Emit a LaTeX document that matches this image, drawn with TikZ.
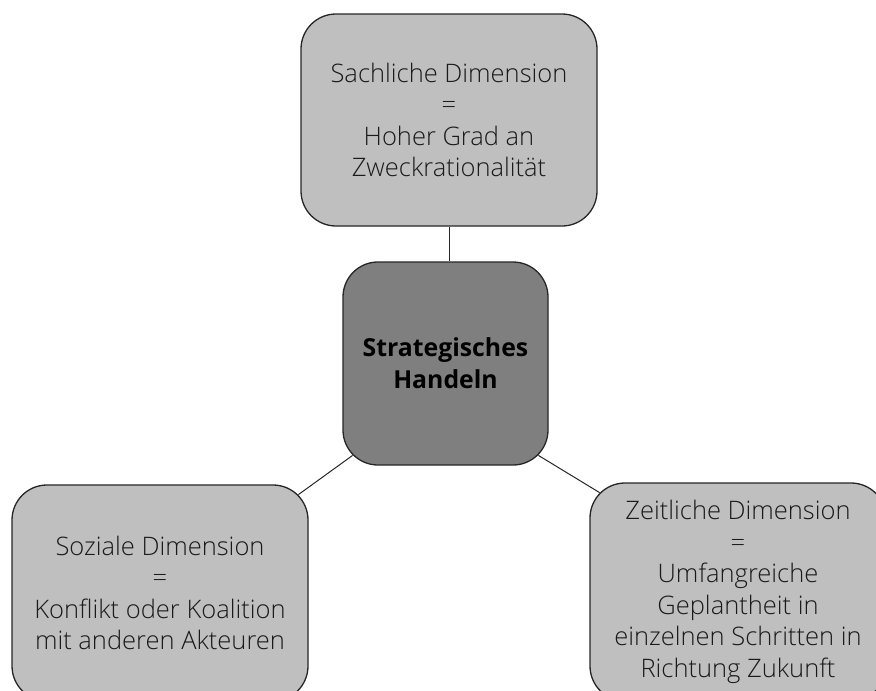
\documentclass[tikz,border=0pt]{standalone}
\usepackage{fontspec}
\setmainfont{Open Sans}[UprightFont=* Light, BoldFont=* Bold]
\usetikzlibrary{calc}
\definecolor{boxlight}{HTML}{BFBFBF}
\definecolor{boxdark}{HTML}{7F7F7F}
\definecolor{edge}{HTML}{262626}
\definecolor{ink}{HTML}{1A1A1A}
\tikzset{
  dimbox/.style={draw=edge, line width=1.3pt, fill=boxlight, rounded corners=35pt,
    minimum width=296pt, align=center, text=ink, inner sep=0pt,
    font=\fontsize{25.5}{31.5}\selectfont},
  corebox/.style={draw=edge, line width=1.3pt, fill=boxdark, rounded corners=35pt,
    minimum width=205pt, minimum height=203pt, align=center, text=black, inner sep=0pt,
    font=\bfseries\fontsize{24.8}{32}\selectfont},
  link/.style={draw=edge, line width=1pt}
}
\begin{document}
\begin{tikzpicture}[x=1pt, y=-1pt]
\useasboundingbox (0,0) rectangle (876,691);
\clip (0,0) rectangle (876,691);
\node[dimbox, minimum height=212pt] (sach) at (449,120)
  {Sachliche Dimension\\=\\Hoher Grad an\\Zweckrationalität};
\node[corebox] (core) at (445.5,363.5) {Strategisches\\Handeln};
\node[dimbox, minimum height=216pt] (sozial) at (160,593)
  {Soziale Dimension\\=\\Konflikt oder Koalition\\mit anderen Akteuren};
\node[dimbox, minimum height=218pt] (zeit) at (738,592)
  {Zeitliche Dimension\\=\\Umfangreiche\\Geplantheit in\\einzelnen Schritten in\\Richtung Zukunft};
\draw[link] (sach.south) -- (sach.south |- core.north);
\draw[link] ($(core.south west)+(10.25,-10.25)$) -- ($(sozial.north east)+(-10.25,10.25)$);
\draw[link] ($(core.south east)+(-10.25,-10.25)$) -- ($(zeit.north west)+(10.25,10.25)$);
\end{tikzpicture}
\end{document}
